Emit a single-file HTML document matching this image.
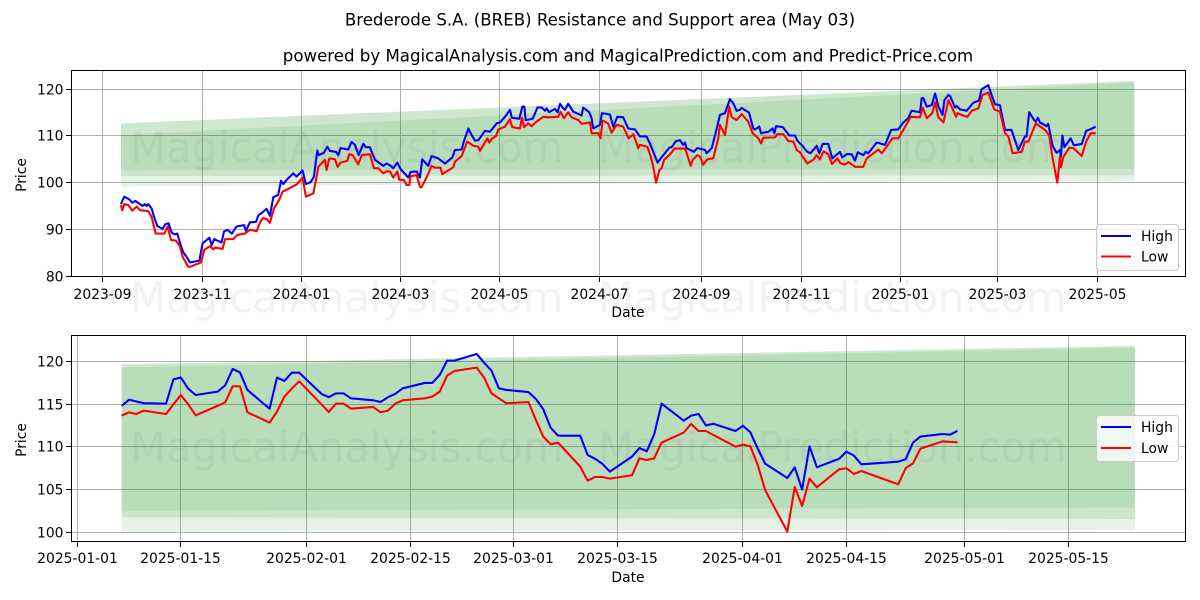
<!DOCTYPE html>
<html lang="en">
<head>
<meta charset="utf-8">
<title>Brederode S.A. (BREB) Resistance and Support area</title>
<style>
html,body{margin:0;padding:0;background:#fff;}
svg{display:block;font-family:"DejaVu Sans","Liberation Sans",sans-serif;}
</style>
</head>
<body>
<svg id="chart" xmlns="http://www.w3.org/2000/svg" width="1200" height="600" viewBox="0 0 1200 600">
  <rect x="0" y="0" width="1200" height="600" fill="#fff"/>
  <text x="600" y="25.5" font-size="16.62" text-anchor="middle" fill="#000">Brederode S.A. (BREB) Resistance and Support area (May 03)</text>
  <text x="628" y="61.5" font-size="16.62" text-anchor="middle" fill="#000">powered by MagicalAnalysis.com and MagicalPrediction.com and Predict-Price.com</text>
  <g id="top-axes"></g>
  <g id="bottom-axes"></g>
  <g font-size="41.67" fill="#808080" fill-opacity="0.1">
    <text x="130" y="162">MagicalAnalysis.com</text>
    <text x="598" y="162">MagicalPrediction.com</text>
    <text x="130" y="312">MagicalAnalysis.com</text>
    <text x="598" y="312">MagicalPrediction.com</text>
    <text x="130" y="462">MagicalAnalysis.com</text>
    <text x="598" y="462">MagicalPrediction.com</text>
  </g>
  <g id="top-lines"></g>
  <g id="bottom-lines"></g>
  <g id="top-frame"></g>
  <g id="bottom-frame"></g>
  <g>
    <rect x="1096.5" y="224.5" width="82" height="46" rx="3" fill="#fff" fill-opacity="0.8" stroke="#ccc" stroke-width="1"/>
    <line x1="1101" y1="236" x2="1131" y2="236" stroke="#0000ff" stroke-width="2.08"/>
    <text x="1141" y="241" font-size="13.89" fill="#000">High</text>
    <line x1="1101" y1="256.5" x2="1131" y2="256.5" stroke="#ff0000" stroke-width="2.08"/>
    <text x="1141" y="261.5" font-size="13.89" fill="#000">Low</text>
  </g>
  <g>
    <rect x="1096.5" y="415.5" width="82" height="46" rx="3" fill="#fff" fill-opacity="0.8" stroke="#ccc" stroke-width="1"/>
    <line x1="1101" y1="427" x2="1131" y2="427" stroke="#0000ff" stroke-width="2.08"/>
    <text x="1141" y="432" font-size="13.89" fill="#000">High</text>
    <line x1="1101" y1="448" x2="1131" y2="448" stroke="#ff0000" stroke-width="2.08"/>
    <text x="1141" y="453" font-size="13.89" fill="#000">Low</text>
  </g>
</svg>
<script>
// ---------- TOP PANEL DATA (days counted from 2023-09-01) ----------
const topYTicks = [80, 90, 100, 110, 120];
const topXTicks = ['2023-09','2023-11','2024-01','2024-03','2024-05','2024-07','2024-09','2024-11','2025-01','2025-03','2025-05'];
const topHighDays = [
11.4,13.4,16.5,18.3,20.2,24.6,25.9,27.1,28.1,30.1,
31.6,33.6,36.9,38.5,40.5,42.4,44.4,45.8,47.9,49.5,
51.5,53.6,59.3,61.3,65.4,66.8,68.4,72.9,74.3,76.4,
79.2,82,86.6,87.8,90.2,93.9,95.5,96.7,100.4,102.4,
104.5,107.5,109.2,110.6,112.6,116.7,118.7,122.4,124.4,127.3,
129.3,131.4,132.2,135.4,137.5,139.1,142.8,144.2,145.6,150.3,
152.3,154.4,156.6,159.5,161.1,163.5,166.6,171.7,173.7,175.8,
177.8,180.3,182.3,187,188.4,192.1,194.1,195.5,199.2,201.2,
205.3,209.4,213.9,215.5,219.6,221,223.7,225.7,227.7,229.8,
233.8,236.9,241,243,246.1,249.1,250.3,254.8,256.7,257.9,
258.7,263,264.6,265.9,268.5,270.5,271.5,273,276.6,278.2,
279.7,281.7,282.7,284.7,287.8,292.9,293.9,297.5,299,300,
304.1,305.3,310.2,312.2,314.7,318.3,321.4,325.5,328.5,332.6,
334.6,336.7,339.3,342.8,346.5,347.9,350.5,353,355,356,
357,361.5,363.5,365.2,368.3,369.3,372.4,375.4,377.4,380.5,
383.5,385.6,387.6,389.6,390.7,395.2,397.8,398.8,401.5,402.5,
407,409.6,410.7,411.7,415.8,419.8,423.3,424.7,426.3,427.3,
430.8,432.8,436.5,438.1,440.2,443.6,446.1,450.7,452.2,454.8,
457.9,459.9,461.6,465,466.4,468.1,473.2,478.3,482,486.4,
489.5,492.5,494.5,499.7,500.7,501.7,503.8,506.8,508.9,510.9,
513.4,514.6,517,518,521.1,522.1,524.1,528.2,532.2,535.7,
537.3,541.4,543.4,545.5,548.5,551.6,555.6,559.7,563.8,564.8,
566.4,569.4,570.4,571.7,572.9,577,578,580.7,583.1,585.2,
585.8,586.7,587.9,591.7,593.7,598.5,601.2,603.6,607];
const topHighValues = [
95.4,97,96.4,95.7,96.1,95,95.4,95,95.4,94.5,
92.7,90.7,90.1,91.1,91.3,89.3,88.9,89.1,86.6,85.1,
84.1,82.9,83.3,87,88.2,86.6,87.9,87.2,89.5,89.9,
89.1,90.6,90.9,89.7,91.5,91.6,93.1,93.3,94.4,92.9,
96.9,97.4,100.4,99.7,100.6,102,101.3,102.6,99.7,100.1,
101.3,106.9,105.9,106.4,107.7,106.8,106.6,105.9,107.4,107.1,
108.7,108.1,105.9,108.3,107.6,107.6,104.9,103.6,104.1,103.7,
103.1,104.3,102.9,101.1,102.3,102.4,101.1,105,103.6,105.7,
105.2,104.1,105.4,107,107.1,108.9,111.6,110.2,109,109.1,
111.1,110.9,112.7,112.9,114.1,115.6,113.9,113.7,116.3,116.3,
113.4,113.7,115,116.1,116.1,115.4,115.9,115.1,115.8,115.1,
116.9,115.9,115.6,116.9,115.2,114.4,116.1,115.1,113.8,111.6,
112.4,114.9,114.6,112,114.1,114,111.6,111.4,109.9,109.9,
108.4,106.6,104.3,105.9,107.5,107.6,108.9,109.1,108.1,108.6,
107.4,106.6,107.4,107.3,107,106.3,107.4,111.5,114.5,114.9,
117.9,117,115.4,115.6,116,115,111.6,111.4,112,110.6,
110.9,111.6,110.6,112.1,111.9,110.1,110.1,109,108.4,108.1,
106.6,106.3,107.9,106.3,108.3,108.3,105.2,106.6,105.4,106.1,
106.1,104.7,106.5,105.9,106.6,106.3,108.6,108.1,111.3,111.4,
112.9,113.8,115.4,115.1,118.1,118.1,116.3,116.6,119.1,116.3,
114.5,117.7,118.8,118.6,116.1,116.4,115.7,115.4,117.1,117.6,
120,120.9,118.8,116.8,116.6,111.3,111.3,107,109.9,109.9,
115.1,113.4,113.1,113.9,112.9,112.1,112.6,107.9,106.4,107,
105.6,110.1,107.6,109.5,108,108.3,111.1,111.4,112];
const topLowDays = [
11.4,12.2,13.4,15.9,18.3,21,23,28.1,30.1,32.6,
37.9,39.9,42,45,47.5,49.1,52.5,54,56.6,60.3,
62.3,65.8,67.8,68.8,73.5,75,80,82.5,87.2,90.2,
94.3,96.3,98,100.4,102.4,104.9,108.1,110.2,111.6,118.7,
122.4,124.4,128.9,130.6,132,136,137.1,138.7,142.2,143.8,
145.6,149.7,150.9,153,156.4,158.5,163.5,166,168.6,171.7,
173.7,175.8,177.8,180.3,181.5,184.3,185.9,187.6,188.4,192.1,
194.1,195.1,199.2,201.2,203.3,206.7,207.7,214.5,215.5,219.6,
223,226.7,229.8,230.8,235.3,236.5,238,240.6,242,246.1,
249.1,250.5,255.2,256.4,257.7,260.3,262.3,265.4,269.5,272.5,
278.6,280,282.1,284.7,286.8,290.9,292.9,298,299,303.1,
304.5,305.7,309.1,311.2,314.3,318.3,321.7,324.5,327.5,328.5,
333.1,335.1,336.7,338.4,340.4,341.8,343.3,347,349.6,356.2,
358.1,359.5,360.8,363.6,365.2,367.2,369.7,373.3,376.4,377.4,
380.5,383.1,384.5,387.6,390.7,394.7,397.4,400.9,402.5,403.9,
411,412.5,416.1,419.2,422.3,424.3,426.3,430.8,434.5,436.5,
438.5,440.7,443.6,445.9,449.2,451.2,453.9,456,460,465,
467.1,474.2,476.3,479.3,482.8,486.4,489.5,494,499.7,501.3,
503.8,507.2,508.9,510.9,514,517,519,521.7,522.5,525.1,
528.7,531.2,535.3,537.9,541.4,545,548.5,551.6,553.6,556.3,
561.8,563.8,565.9,570.4,576,578.6,580.7,583.6,585.2,585.8,
587.3,590.9,593.4,598.5,601.2,604,607];
const topLowValues = [
95.2,94.1,95.4,95.2,94,94.9,94.1,93.9,92.7,89.1,
89.1,90.6,87.7,87.6,86.3,84.1,82,82,82.4,82.9,
85.6,86.4,85.7,86.1,85.8,87.9,87.9,88.8,89.1,89.9,
89.6,91.4,92.4,92.2,91.4,94.5,96.3,98.1,98.3,99.6,
101.1,97,97.7,100.6,103.4,104.9,102.7,105.2,105,103.4,
104.3,104.7,106.1,105.9,103.9,105.9,106.1,103.1,103.1,102,
102.4,102.4,101.1,102.4,100.6,100.6,99.5,99.5,101.4,101.6,
99.1,99,101.9,103.6,103.2,103.2,101.8,103.3,104.5,105.7,
108.8,107.9,107.7,106.8,109.5,108.6,109.4,110,111.4,112,
113.6,111.9,111.6,113.9,111.9,112.7,112.1,113.1,114.1,114,
114.1,115.2,113.8,115.1,114,113.4,112.6,112.9,110.6,110.6,
109.5,113.3,112.7,110.7,112.4,112,109.5,110.4,107.4,108.1,
107.7,105.6,103.4,100,102.7,103.1,104.9,106.1,107.3,107.3,
105.2,103.6,104.9,105.9,105.6,103.8,105,105.2,109.5,112.4,
110.2,116.3,114.1,113.4,114.7,113.1,110.6,109.5,108.4,109.6,
109.7,110.4,110.4,108.9,108.8,107,106.5,104.1,104.9,105.9,
105,106.7,106.1,104,105.2,104.1,103.9,104.4,103.4,103.4,
105.2,107.1,106.3,107.7,109.5,109.5,111.3,114.1,114,116.1,
113.8,114.9,117.2,114,112.9,117.7,116.3,114.1,114.9,114.5,
114.1,115.4,115.9,118.8,119.3,115.7,115.2,110.6,109.9,106.3,
106.6,108.8,108.8,112.7,111.3,110.2,105.2,100,105.6,103.3,
105.5,107.5,107.4,105.7,108.8,110.6,110.6];
// band edges at the band's first and last day
const topBandDays = [11.4, 630.6];
const topBandOuterTop = [112.7, 121.8];
const topBandInnerTop = [110.2, 121.5];
const topBandInnerBottom = [102.6, 102.9];
const topBandMidBottom = [101.4, 101.6];
const topBandOuterBottom = [99.2, 100.4];

// ---------- BOTTOM PANEL DATA ----------
const bottomYTicks = [100, 105, 110, 115, 120];
const bottomXTicks = ['2025-01-01','2025-01-15','2025-02-01','2025-02-15','2025-03-01','2025-03-15','2025-04-01','2025-04-15','2025-05-01','2025-05-15'];
const bottomDates = [
'2025-01-07','2025-01-08','2025-01-09','2025-01-10','2025-01-13','2025-01-14','2025-01-15','2025-01-16','2025-01-17','2025-01-20',
'2025-01-21','2025-01-22','2025-01-23','2025-01-24','2025-01-27','2025-01-28','2025-01-29','2025-01-30','2025-01-31',
'2025-02-03','2025-02-04','2025-02-05','2025-02-06','2025-02-07','2025-02-10','2025-02-11','2025-02-12','2025-02-13','2025-02-14',
'2025-02-17','2025-02-18','2025-02-19','2025-02-20','2025-02-21','2025-02-24','2025-02-25','2025-02-26','2025-02-27','2025-02-28',
'2025-03-03','2025-03-04','2025-03-05','2025-03-06','2025-03-07','2025-03-10','2025-03-11','2025-03-12','2025-03-13','2025-03-14',
'2025-03-17','2025-03-18','2025-03-19','2025-03-20','2025-03-21','2025-03-24','2025-03-25','2025-03-26','2025-03-27','2025-03-28','2025-03-31',
'2025-04-01','2025-04-02','2025-04-03','2025-04-04','2025-04-07','2025-04-08','2025-04-09','2025-04-10','2025-04-11',
'2025-04-14','2025-04-15','2025-04-16','2025-04-17','2025-04-22','2025-04-23','2025-04-24','2025-04-25','2025-04-28','2025-04-29','2025-04-30'];
const bottomHigh = [
114.8,115.5,115.3,115.1,115.05,117.9,118.1,116.8,116.06,116.45,
117.2,119.1,118.7,116.65,114.45,118.1,117.7,118.67,118.67,
116.2,115.8,116.25,116.25,115.67,115.44,115.24,115.8,116.2,116.84,
117.47,117.47,118.4,120.08,120.08,120.86,119.84,118.9,116.84,116.65,
116.4,115.6,114.4,112.24,111.3,111.3,109.05,108.6,108,107.1,
108.85,109.86,109.47,111.46,115.05,113.06,113.65,113.84,112.5,112.7,111.85,
112.47,111.7,109.8,108.03,106.35,107.6,105,110.06,107.6,
108.6,109.43,108.97,107.95,108.26,108.54,110.5,111.2,111.5,111.42,111.85];
const bottomLow = [
113.65,114.03,113.84,114.23,113.84,114.97,116.06,114.97,113.68,114.8,
115.2,117.08,117.08,114.03,112.83,114.1,115.87,116.8,117.66,
114.97,114.07,115.05,115.05,114.46,114.66,114.03,114.23,115.05,115.44,
115.67,115.87,116.45,118.32,118.87,119.26,118.09,116.26,115.67,115.09,
115.24,113.14,111.19,110.29,110.49,107.68,106.04,106.47,106.47,106.28,
106.67,108.65,108.46,108.65,110.49,111.66,112.67,111.85,111.85,111.38,110.02,
110.25,110.06,107.87,104.95,100.08,105.3,103.08,106.28,105.26,
107.37,107.49,106.82,107.17,105.61,107.49,108.07,109.79,110.64,110.57,110.53];
const bottomBandDates = ['2025-01-07', '2025-05-24'];
const bottomBandOuterTop = [119.65, 121.8];
const bottomBandInnerTop = [119.3, 121.6];
const bottomBandInnerBottom = [102.5, 102.9];
const bottomBandMidBottom = [101.75, 101.56];
const bottomBandOuterBottom = [100.08, 100.3];

// ---------- HELPERS ----------
const NS = 'http://www.w3.org/2000/svg';
function make(parent, tag, attrs, text) {
  const el = document.createElementNS(NS, tag);
  for (const k in attrs) el.setAttribute(k, attrs[k]);
  if (text !== undefined) el.textContent = text;
  parent.appendChild(el);
  return el;
}
function dayNum(s) {
  const p = s.split('-').map(Number);
  return Date.UTC(p[0], p[1] - 1, p[2] || 1) / 86400000;
}
function crisp(v) { return Math.floor(v) + 0.5; }
function pts(xs, ys, fx, fy) {
  const out = [];
  const n = Math.min(xs.length, ys.length);
  for (let i = 0; i < n; i++) out.push(fx(xs[i]).toFixed(2) + ',' + fy(ys[i]).toFixed(2));
  return out.join(' ');
}
const GREEN = '#008000';
function bandLayer(parent, xs, upper, lower, fx, fy, op) {
  const poly = pts(xs, upper, fx, fy) + ' ' + pts(xs.slice().reverse(), lower.slice().reverse(), fx, fy);
  return make(parent, 'polygon', { points: poly, fill: GREEN, 'fill-opacity': op });
}

// ---------- AXIS FUNCTIONS ----------
const topOrigin = dayNum('2023-09-01');
const bottomOrigin = dayNum('2025-01-01');
const topX = d => 102.3 + 1.6365 * d;
const topY = v => 89.3 + (120 - v) * 4.668;
const bottomX = d => 77.3 + 7.396 * d;
const bottomY = v => 361.3 + (120 - v) * 8.55;

// ---------- TOP PANEL ----------
const topG = document.getElementById('top-axes');
const topL = document.getElementById('top-lines');
const topF = document.getElementById('top-frame');
topXTicks.forEach(function (t) {
  const x = crisp(topX(dayNum(t) - topOrigin));
  const g = make(topG, 'line', { x1: x, x2: x, y1: 70, y2: 277, stroke: '#b0b0b0', 'stroke-width': 1 });
  
  
  const m = make(topF, 'line', { x1: x, x2: x, y1: 277, y2: 282, stroke: '#000', 'stroke-width': 1 });
  
  
  const l = make(topF, 'text', { x: x, y: 299, 'font-size': 13.89, 'text-anchor': 'middle', fill: '#000' }, t);
  
  
});
topYTicks.forEach(function (v) {
  const y = crisp(topY(v));
  const g = make(topG, 'line', { x1: 71, x2: 1186, y1: y, y2: y, stroke: '#b0b0b0', 'stroke-width': 1 });
  
  
  const m = make(topF, 'line', { x1: 66, x2: 71, y1: y, y2: y, stroke: '#000', 'stroke-width': 1 });
  
  
  const l = make(topF, 'text', { x: 63.5, y: y + 5, 'font-size': 13.89, 'text-anchor': 'end', fill: '#000' }, v);
  
  
});
const tb1 = bandLayer(topG, topBandDays, topBandOuterTop, topBandInnerTop, topX, topY, 0.19);


const tb2 = bandLayer(topG, topBandDays, topBandInnerTop, topBandInnerBottom, topX, topY, 0.275);


const tb3 = bandLayer(topG, topBandDays, topBandInnerBottom, topBandMidBottom, topX, topY, 0.2);


const tb4 = bandLayer(topG, topBandDays, topBandMidBottom, topBandOuterBottom, topX, topY, 0.1);


const topHighLine = make(topL, 'polyline', { points: pts(topHighDays, topHighValues, topX, topY), fill: 'none', stroke: '#0000ff', 'stroke-width': 2.08, 'stroke-linejoin': 'round' });


const topLowLine = make(topL, 'polyline', { points: pts(topLowDays, topLowValues, topX, topY), fill: 'none', stroke: '#ff0000', 'stroke-width': 2.08, 'stroke-linejoin': 'round' });


const topFrame = make(topF, 'rect', { x: 71.5, y: 70.5, width: 1114, height: 206, fill: 'none', stroke: '#000', 'stroke-width': 1 });


const topYTitle = make(topF, 'text', { x: 0, y: 0, transform: 'translate(26,175) rotate(-90)', 'font-size': 13.89, 'text-anchor': 'middle', fill: '#000' }, 'Price');


const topXTitle = make(topF, 'text', { x: 628, y: 317, 'font-size': 13.89, 'text-anchor': 'middle', fill: '#000' }, 'Date');



// ---------- BOTTOM PANEL ----------
const botG = document.getElementById('bottom-axes');
const botL = document.getElementById('bottom-lines');
const botF = document.getElementById('bottom-frame');
bottomXTicks.forEach(function (t) {
  const x = crisp(bottomX(dayNum(t) - bottomOrigin));
  const g = make(botG, 'line', { x1: x, x2: x, y1: 335, y2: 542, stroke: '#b0b0b0', 'stroke-width': 1 });
  
  
  const m = make(botF, 'line', { x1: x, x2: x, y1: 542, y2: 547, stroke: '#000', 'stroke-width': 1 });
  
  
  const l = make(botF, 'text', { x: x, y: 563, 'font-size': 13.89, 'text-anchor': 'middle', fill: '#000' }, t);
  
  
});
bottomYTicks.forEach(function (v) {
  const y = crisp(bottomY(v));
  const g = make(botG, 'line', { x1: 71, x2: 1186, y1: y, y2: y, stroke: '#b0b0b0', 'stroke-width': 1 });
  
  
  const m = make(botF, 'line', { x1: 66, x2: 71, y1: y, y2: y, stroke: '#000', 'stroke-width': 1 });
  
  
  const l = make(botF, 'text', { x: 63.5, y: y + 5, 'font-size': 13.89, 'text-anchor': 'end', fill: '#000' }, v);
  
  
});
const bandBX = s => bottomX(dayNum(s) - bottomOrigin);
const bb1 = bandLayer(botG, bottomBandDates, bottomBandOuterTop, bottomBandInnerTop, bandBX, bottomY, 0.19);


const bb2 = bandLayer(botG, bottomBandDates, bottomBandInnerTop, bottomBandInnerBottom, bandBX, bottomY, 0.275);


const bb3 = bandLayer(botG, bottomBandDates, bottomBandInnerBottom, bottomBandMidBottom, bandBX, bottomY, 0.2);


const bb4 = bandLayer(botG, bottomBandDates, bottomBandMidBottom, bottomBandOuterBottom, bandBX, bottomY, 0.1);


const botHighLine = make(botL, 'polyline', { points: pts(bottomDates, bottomHigh, bandBX, bottomY), fill: 'none', stroke: '#0000ff', 'stroke-width': 2.08, 'stroke-linejoin': 'round' });


const botLowLine = make(botL, 'polyline', { points: pts(bottomDates, bottomLow, bandBX, bottomY), fill: 'none', stroke: '#ff0000', 'stroke-width': 2.08, 'stroke-linejoin': 'round' });


const botFrame = make(botF, 'rect', { x: 71.5, y: 335.5, width: 1114, height: 206, fill: 'none', stroke: '#000', 'stroke-width': 1 });


const botYTitle = make(botF, 'text', { x: 0, y: 0, transform: 'translate(26,440) rotate(-90)', 'font-size': 13.89, 'text-anchor': 'middle', fill: '#000' }, 'Price');


const botXTitle = make(botF, 'text', { x: 628, y: 582, 'font-size': 13.89, 'text-anchor': 'middle', fill: '#000' }, 'Date');


</script>
</body>
</html>
